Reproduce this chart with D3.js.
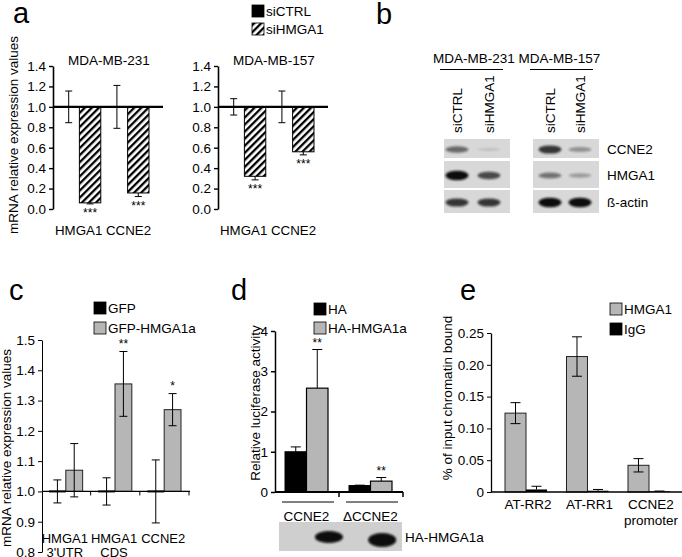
<!DOCTYPE html>
<html>
<head>
<meta charset="utf-8">
<script src="https://cdn.jsdelivr.net/npm/d3@7"></script>
<style>
  body { margin: 0; background: #fff; }
  svg { font-family: "Liberation Sans", Arial, sans-serif; }
  .axis path, .axis line { stroke: #000; }
  .axis text { font-size: 13.5px; fill: #000; }
</style>
</head>
<body>
<svg id="fig" width="682" height="557"></svg>
<script>
// ---- data ----
// panel a : mRNA after siHMGA1
var aGenes = ['HMGA1', 'CCNE2'];
var aConds = ['siCTRL', 'siHMGA1'];
var a231Ctrl = [1.0, 1.0];
var a231CtrlErr = [0.155, 0.21];
var a231Si = [0.06, 0.157];
var a231SiErr = [0.01, 0.035];
var a157Ctrl = [1.0, 1.0];
var a157CtrlErr = [0.08, 0.155];
var a157Si = [0.32, 0.56];
var a157SiErr = [0.035, 0.03];
var aTicks = [0, 0.2, 0.4, 0.6, 0.8, 1.0, 1.2, 1.4];

// panel b : western blots (band intensity 0..1)
var blotRows = ['CCNE2', 'HMGA1', 'ß-actin'];
var blotLanes = ['siCTRL', 'siHMGA1'];
var blot231 = [[0.55, 0.08], [1.0, 0.7], [0.8, 0.8]];
var blot157 = [[0.8, 0.35], [0.5, 0.3], [1.0, 1.0]];

// panel c : GFP vs GFP-HMGA1a
var cGroups = ['HMGA1\n3\'UTR', 'HMGA1\nCDS', 'CCNE2'];
var cGfp = [1.0, 1.0, 1.0];
var cGfpErr = [0.038, 0.045, 0.104];
var cHmga = [1.07, 1.355, 1.27];
var cHmgaErr = [0.088, 0.107, 0.053];
var cStars = ['', '**', '*'];
var cTicks = [0.8, 0.9, 1.0, 1.1, 1.2, 1.3, 1.4, 1.5];

// panel d : luciferase
var dGroups = ['CCNE2', 'ΔCCNE2'];
var dHa = [1.0, 0.16];
var dHaErr = [0.12, 0.01];
var dHmga = [2.58, 0.27];
var dHmgaErr = [0.96, 0.09];
var dBlot = [0, 0.85, 0, 1.0];
var dTicks = [0, 1, 2, 3, 4];

// panel e : ChIP
var eGroups = ['AT-RR2', 'AT-RR1', 'CCNE2\npromoter'];
var eHmga = [0.124, 0.213, 0.042];
var eHmgaErr = [0.0165, 0.031, 0.0105];
var eIgg = [0.004, 0.002, 0.001];
var eIggErr = [0.005, 0.002, 0.0005];
var eTicks = [0, 0.05, 0.10, 0.15, 0.20, 0.25];

var GREY = '#b6b6b6';

var svg = d3.select('#fig');
var defs = svg.append('defs');

// hatch for siHMGA1 bars
defs.append('pattern')
    .attr('id', 'hatch')
    .attr('patternUnits', 'userSpaceOnUse')
    .attr('width', 5).attr('height', 5)
    .attr('patternTransform', 'rotate(45)')
  .append('rect')
    .attr('width', 2.3).attr('height', 5)
    .attr('fill', '#000');

defs.append('filter').attr('id', 'blur')
    .attr('x', '-50%').attr('y', '-100%').attr('width', '200%').attr('height', '300%')
  .append('feGaussianBlur').attr('stdDeviation', 1.3);

function panelLabel(t, x, y) {
    svg.append('text').attr('x', x).attr('y', y)
        .attr('font-size', 29).text(t);
}

function yLabel(t, x, y) {
    svg.append('text')
        .attr('transform', 'translate(' + x + ',' + y + ') rotate(-90)')
        .attr('text-anchor', 'middle')
        .attr('font-size', 13.5)
        .text(t);
}

function legendBox(x, y, fill, label) {
    svg.append('rect').attr('x', x).attr('y', y).attr('width', 12).attr('height', 12)
        .attr('fill', fill).attr('stroke', '#000').attr('stroke-width', 0.8);
    svg.append('text').attr('x', x + 14).attr('y', y + 11)
        .attr('font-size', 13.5).text(label);
}

function errBar(g, x, y1, y2, cap) {
    g.append('line').attr('x1', x).attr('x2', x).attr('y1', y1).attr('y2', y2)
        .attr('stroke', '#000').attr('stroke-width', 1);
    g.append('line').attr('x1', x - cap / 2).attr('x2', x + cap / 2).attr('y1', y2).attr('y2', y2)
        .attr('stroke', '#000').attr('stroke-width', 1);
}

function multiLine(sel, txt, lh) {
    txt.split('\n').forEach(function(l, i) {
        sel.append('tspan').attr('x', sel.attr('x')).attr('dy', i === 0 ? 0 : lh).text(l);
    });
}

// ================= panel a =================
panelLabel('a', 13, 23);
legendBox(252, 5, '#000', 'siCTRL');
legendBox(252, 23, 'url(#hatch)', 'siHMGA1');
yLabel('mRNA relative expression values', 18, 135);

function drawA(axisX, title, ctrl, ctrlErr, si, siErr) {
    var y = d3.scaleLinear().domain([0, 1.4]).range([209, 66]);
    var x0 = d3.scaleBand().domain(aGenes).range([axisX + 5, axisX + 96]).paddingInner(0.113);
    var x1 = d3.scaleBand().domain(aConds).range([0, x0.bandwidth()]);
    var g = svg.append('g');

    svg.append('text').attr('x', axisX + 56).attr('y', 65)
        .attr('text-anchor', 'middle').attr('font-size', 13.5).text(title);

    g.append('g').attr('class', 'axis')
        .attr('transform', 'translate(' + axisX + ',0)')
        .call(d3.axisLeft(y).tickValues(aTicks).tickFormat(d3.format('.1f')).tickSize(4).tickSizeOuter(0))
        .call(function(s) { s.select('.domain').attr('stroke-width', 1.6); s.selectAll('.tick line').attr('stroke-width', 1.4); });

    aGenes.forEach(function(gene, i) {
        var xc = x0(gene) + x1('siCTRL');
        var xs = x0(gene) + x1('siHMGA1');
        var bw = x1.bandwidth();
        // siCTRL bar from the 1.0 line
        g.append('rect').attr('x', xc).attr('width', bw)
            .attr('y', Math.min(y(1), y(ctrl[i]))).attr('height', Math.abs(y(ctrl[i]) - y(1)))
            .attr('fill', '#000');
        errBar(g, xc + bw / 2, y(ctrl[i] - ctrlErr[i]), y(ctrl[i] + ctrlErr[i]), 7);
        g.append('line').attr('x1', xc + bw / 2 - 3.5).attr('x2', xc + bw / 2 + 3.5)
            .attr('y1', y(ctrl[i] - ctrlErr[i])).attr('y2', y(ctrl[i] - ctrlErr[i]))
            .attr('stroke', '#000');
        // siHMGA1 hatched bar hanging down from 1.0
        g.append('rect').attr('x', xs).attr('width', bw)
            .attr('y', y(1)).attr('height', y(si[i]) - y(1))
            .attr('fill', 'url(#hatch)').attr('stroke', '#000').attr('stroke-width', 1);
        errBar(g, xs + bw / 2, y(si[i]), y(si[i] - siErr[i]), 7);
        g.append('text').attr('x', xs + bw / 2).attr('y', y(si[i] - siErr[i]) + 13)
            .attr('text-anchor', 'middle').attr('font-size', 12).text('***');
    });

    // baseline at 1.0
    g.append('line').attr('x1', axisX).attr('x2', axisX + 110)
        .attr('y1', y(1)).attr('y2', y(1)).attr('stroke', '#000').attr('stroke-width', 2.4);

    g.append('text').attr('x', axisX + 2).attr('y', 235).attr('font-size', 13.3)
        .text(aGenes.join(' '));
}
drawA(53, 'MDA-MB-231', a231Ctrl, a231CtrlErr, a231Si, a231SiErr);
drawA(218, 'MDA-MB-157', a157Ctrl, a157CtrlErr, a157Si, a157SiErr);

// ================= panel b =================
panelLabel('b', 376, 24);
svg.append('text').attr('x', 433).attr('y', 63).attr('font-size', 13.5)
    .text('MDA-MB-231 MDA-MB-157');
svg.append('line').attr('x1', 440).attr('x2', 503).attr('y1', 69.5).attr('y2', 69.5).attr('stroke', '#000');
svg.append('line').attr('x1', 530).attr('x2', 593).attr('y1', 69.5).attr('y2', 69.5).attr('stroke', '#000');

var rowY = d3.scaleOrdinal().domain(blotRows).range([[139, 158], [161, 188], [190, 213]]);

function drawBlot(x0, x1, lanes, data) {
    var lx = d3.scalePoint().domain(blotLanes).range(lanes);
    var g = svg.append('g');
    blotRows.forEach(function(r, ri) {
        var yy = rowY(r);
        g.append('rect').attr('x', x0).attr('y', yy[0]).attr('width', x1 - x0).attr('height', yy[1] - yy[0])
            .attr('fill', '#d8d8d8');
        blotLanes.forEach(function(l, li) {
            var v = data[ri][li];
            g.append('ellipse')
                .attr('cx', lx(l)).attr('cy', (yy[0] + yy[1]) / 2 + 1)
                .attr('rx', 11.5).attr('ry', 1.2 + 3.6 * v)
                .attr('fill', '#111').attr('opacity', Math.max(0.12, v))
                .attr('filter', 'url(#blur)');
        });
    });
    blotLanes.forEach(function(l) {
        svg.append('text')
            .attr('transform', 'translate(' + (lx(l) + 5) + ',133) rotate(-90)')
            .attr('font-size', 13.5).text(l);
    });
}
drawBlot(444, 510, [457, 489], blot231);
drawBlot(533, 599, [550, 580], blot157);
blotRows.forEach(function(r) {
    var yy = rowY(r);
    svg.append('text').attr('x', 607).attr('y', (yy[0] + yy[1]) / 2 + 5)
        .attr('font-size', 13.5).text(r);
});

// ================= panel c =================
panelLabel('c', 9, 300);
legendBox(94, 302, '#000', 'GFP');
legendBox(94, 322, GREY, 'GFP-HMGA1a');
yLabel('mRNA relative expression values', 11, 448);

(function() {
    var y = d3.scaleLinear().domain([0.8, 1.5]).range([552, 340]);
    var x0 = d3.scaleBand().domain(cGroups).range([49, 181]).paddingInner(0.316);
    var bw = x0.bandwidth() / 2;
    var g = svg.append('g');

    g.append('g').attr('class', 'axis')
        .attr('transform', 'translate(42,0)')
        .call(d3.axisLeft(y).tickValues(cTicks).tickFormat(d3.format('.1f')).tickSize(4).tickSizeOuter(0));

    cGroups.forEach(function(grp, i) {
        var xa = x0(grp), xb = x0(grp) + bw;
        g.append('rect').attr('x', xa).attr('width', bw)
            .attr('y', Math.min(y(1), y(cGfp[i]))).attr('height', Math.abs(y(cGfp[i]) - y(1)))
            .attr('fill', '#000');
        errBar(g, xa + bw / 2, y(cGfp[i] - cGfpErr[i]), y(cGfp[i] + cGfpErr[i]), 8);
        g.append('line').attr('x1', xa + bw / 2 - 4).attr('x2', xa + bw / 2 + 4)
            .attr('y1', y(cGfp[i] - cGfpErr[i])).attr('y2', y(cGfp[i] - cGfpErr[i])).attr('stroke', '#000');
        g.append('rect').attr('x', xb).attr('width', bw)
            .attr('y', y(cHmga[i])).attr('height', y(1) - y(cHmga[i]))
            .attr('fill', GREY).attr('stroke', '#222').attr('stroke-width', 1);
        errBar(g, xb + bw / 2, y(cHmga[i] - cHmgaErr[i]), y(cHmga[i] + cHmgaErr[i]), 8);
        g.append('line').attr('x1', xb + bw / 2 - 4).attr('x2', xb + bw / 2 + 4)
            .attr('y1', y(cHmga[i] - cHmgaErr[i])).attr('y2', y(cHmga[i] - cHmgaErr[i])).attr('stroke', '#000');
        g.append('text').attr('x', xb + bw / 2).attr('y', y(cHmga[i] + cHmgaErr[i]) - 4)
            .attr('text-anchor', 'middle').attr('font-size', 12).text(cStars[i]);
        // black segment of GFP bar on the line
        g.append('line').attr('x1', xa).attr('x2', xb).attr('y1', y(1)).attr('y2', y(1))
            .attr('stroke', '#000').attr('stroke-width', 2);
        g.append('line').attr('x1', xb + bw + 8).attr('x2', xb + bw + 8)
            .attr('y1', y(1)).attr('y2', y(1) + 4).attr('stroke', '#000');
        var t = g.append('text').attr('x', x0(grp) + x0.bandwidth() / 2 - 1).attr('y', 543)
            .attr('text-anchor', 'middle').attr('font-size', 13);
        multiLine(t, grp, 14);
    });
    g.append('line').attr('x1', 42).attr('x2', 190).attr('y1', y(1)).attr('y2', y(1))
        .attr('stroke', '#000').attr('stroke-width', 1.2);
})();

// ================= panel d =================
panelLabel('d', 231, 300);
legendBox(314, 303, '#000', 'HA');
legendBox(314, 322, GREY, 'HA-HMGA1a');
yLabel('Relative luciferase activity', 260, 403);

(function() {
    var y = d3.scaleLinear().domain([0, 4]).range([492, 331]);
    var x0 = d3.scaleBand().domain(dGroups).range([285, 392]).paddingInner(0.328);
    var bw = x0.bandwidth() / 2;
    var g = svg.append('g');

    g.append('g').attr('class', 'axis')
        .attr('transform', 'translate(275,0)')
        .call(d3.axisLeft(y).tickValues(dTicks).tickFormat(d3.format('d')).tickSize(4).tickSizeOuter(0))
        .call(function(s) { s.select('.domain').attr('stroke-width', 1.5); s.selectAll('.tick line').attr('stroke-width', 1.5); });

    dGroups.forEach(function(grp, i) {
        var xa = x0(grp), xb = x0(grp) + bw;
        g.append('rect').attr('x', xa).attr('width', bw)
            .attr('y', y(dHa[i])).attr('height', y(0) - y(dHa[i]))
            .attr('fill', '#000').attr('stroke', '#000');
        errBar(g, xa + bw / 2, y(dHa[i]), y(dHa[i] + dHaErr[i]), 10);
        g.append('rect').attr('x', xb).attr('width', bw)
            .attr('y', y(dHmga[i])).attr('height', y(0) - y(dHmga[i]))
            .attr('fill', GREY).attr('stroke', '#000').attr('stroke-width', 1.2);
        errBar(g, xb + bw / 2, y(dHmga[i]), y(dHmga[i] + dHmgaErr[i]), 10);
        g.append('text').attr('x', xb + bw / 2).attr('y', y(dHmga[i] + dHmgaErr[i]) - 3)
            .attr('text-anchor', 'middle').attr('font-size', 12).text('**');
        g.append('line').attr('x1', xb + bw + 11).attr('x2', xb + bw + 11)
            .attr('y1', y(0)).attr('y2', y(0) + 5).attr('stroke', '#000').attr('stroke-width', 1.5);
        g.append('line').attr('x1', xa - 3).attr('x2', xb + bw + 6)
            .attr('y1', 502).attr('y2', 502).attr('stroke', '#000');
        g.append('text').attr('x', x0(grp) + x0.bandwidth() / 2).attr('y', 521)
            .attr('text-anchor', 'middle').attr('font-size', 13.5).text(grp);
    });
    g.append('line').attr('x1', 275).attr('x2', 403).attr('y1', y(0)).attr('y2', y(0))
        .attr('stroke', '#000').attr('stroke-width', 1.8);

    // HA-HMGA1a blot under the bars
    var lane = d3.scaleBand().domain(d3.range(dBlot.length)).range([285, 392]).paddingInner(0.328);
    g.append('rect').attr('x', 279).attr('y', 522).attr('width', 123).attr('height', 29).attr('fill', '#cfcfcf');
    dBlot.forEach(function(v, i) {
        if (v > 0) {
            g.append('ellipse').attr('cx', lane(i) + lane.bandwidth() / 2 + (i === 1 ? 5 : 0))
                .attr('cy', 537 + (i === 3 ? 3 : 0))
                .attr('rx', 14).attr('ry', 1 + 6 * v)
                .attr('fill', '#080808').attr('filter', 'url(#blur)');
        }
    });
    svg.append('text').attr('x', 405).attr('y', 542).attr('font-size', 13.5).text('HA-HMGA1a');
})();

// ================= panel e =================
panelLabel('e', 460, 300);
legendBox(610, 303, GREY, 'HMGA1');
legendBox(610, 323, '#000', 'IgG');
yLabel('% of input chromatin bound', 452, 398);

(function() {
    var y = d3.scaleLinear().domain([0, 0.25]).range([492, 333]);
    var x0 = d3.scaleBand().domain(eGroups).range([505, 670]).paddingInner(0.317);
    var bw = x0.bandwidth() / 2;
    var g = svg.append('g');

    g.append('g').attr('class', 'axis')
        .attr('transform', 'translate(491,0)')
        .call(d3.axisLeft(y).tickValues(eTicks)
            .tickFormat(function(d) { return d === 0 ? '0' : d3.format('.2f')(d); })
            .tickSize(4).tickSizeOuter(0))
        .call(function(s) { s.select('.domain').attr('stroke-width', 1.3); });

    eGroups.forEach(function(grp, i) {
        var xa = x0(grp), xb = x0(grp) + bw;
        g.append('rect').attr('x', xa).attr('width', bw)
            .attr('y', y(eHmga[i])).attr('height', y(0) - y(eHmga[i]))
            .attr('fill', GREY).attr('stroke', '#222').attr('stroke-width', 1);
        errBar(g, xa + bw / 2, y(eHmga[i] - eHmgaErr[i]), y(eHmga[i] + eHmgaErr[i]), 10);
        g.append('line').attr('x1', xa + bw / 2 - 5).attr('x2', xa + bw / 2 + 5)
            .attr('y1', y(eHmga[i] - eHmgaErr[i])).attr('y2', y(eHmga[i] - eHmgaErr[i])).attr('stroke', '#000');
        g.append('rect').attr('x', xb).attr('width', bw)
            .attr('y', y(eIgg[i])).attr('height', y(0) - y(eIgg[i]))
            .attr('fill', '#000');
        errBar(g, xb + bw / 2, y(eIgg[i]), y(eIgg[i] + eIggErr[i]), 10);
        var t = g.append('text').attr('x', x0(grp) + x0.bandwidth() / 2 + 2).attr('y', 509)
            .attr('text-anchor', 'middle').attr('font-size', 13.5);
        multiLine(t, grp, 16);
    });
    g.append('line').attr('x1', 491).attr('x2', 682).attr('y1', y(0)).attr('y2', y(0))
        .attr('stroke', '#000').attr('stroke-width', 1.5);
})();
</script>
</body>
</html>
